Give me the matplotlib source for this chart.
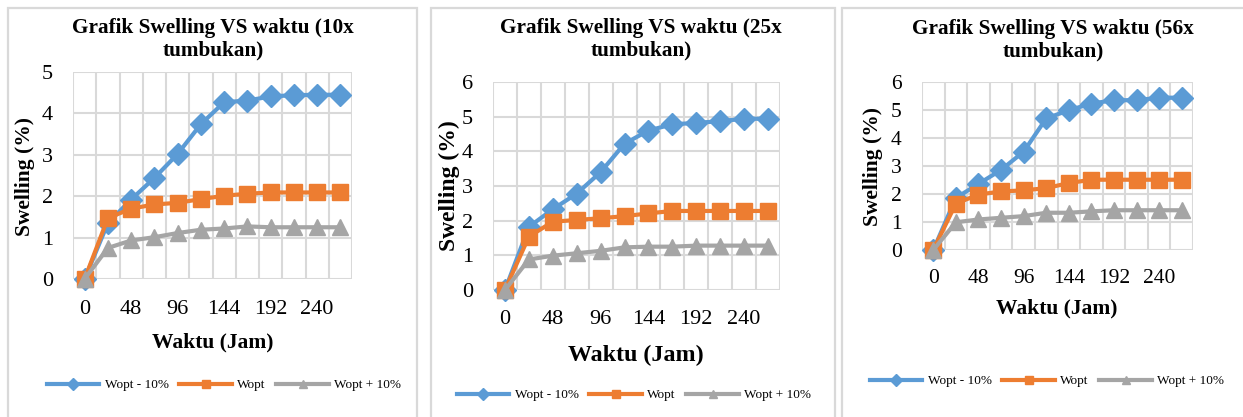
import matplotlib
matplotlib.use("Agg")
import matplotlib.pyplot as plt
from matplotlib.lines import Line2D
from matplotlib.patches import Rectangle

plt.rcParams['font.family'] = ['Liberation Serif', 'DejaVu Serif']

# ---------------- data ----------------
times = [0, 24, 48, 72, 96, 120, 144, 168, 192, 216, 240, 264]
tick_labels = ["0", "48", "96", "144", "192", "240"]
series_names = ["Wopt - 10%", "Wopt", "Wopt + 10%"]
titles = ["Grafik Swelling VS waktu (10x\ntumbukan)",
          "Grafik Swelling VS waktu (25x\ntumbukan)",
          "Grafik Swelling VS waktu (56x\ntumbukan)"]

c10_minus = [0, 1.35, 1.92, 2.44, 3.02, 3.74, 4.27, 4.31, 4.41, 4.44, 4.45, 4.45]
c10_opt   = [0, 1.47, 1.70, 1.80, 1.84, 1.93, 2.01, 2.06, 2.09, 2.09, 2.09, 2.09]
c10_plus  = [0, 0.75, 0.93, 1.01, 1.11, 1.19, 1.22, 1.27, 1.25, 1.25, 1.25, 1.25]

c25_minus = [0, 1.82, 2.33, 2.78, 3.40, 4.22, 4.60, 4.78, 4.82, 4.87, 4.94, 4.94]
c25_opt   = [0, 1.54, 1.97, 2.02, 2.07, 2.13, 2.21, 2.28, 2.28, 2.28, 2.28, 2.28]
c25_plus  = [0, 0.88, 0.99, 1.06, 1.13, 1.23, 1.25, 1.25, 1.28, 1.28, 1.28, 1.28]

c56_minus = [0, 1.86, 2.36, 2.86, 3.51, 4.70, 4.99, 5.23, 5.35, 5.35, 5.44, 5.44]
c56_opt   = [0, 1.66, 1.98, 2.09, 2.13, 2.21, 2.39, 2.51, 2.51, 2.51, 2.51, 2.51]
c56_plus  = [0, 0.99, 1.09, 1.15, 1.21, 1.33, 1.33, 1.38, 1.42, 1.42, 1.42, 1.42]

y_max = [5, 6, 6]

# ---------------- style ----------------
colors = ["#5B9BD5", "#ED7D31", "#A5A5A5"]
markers = ["D", "s", "^"]
msizes = [11, 11.5, 12]
grid_c = "#D9D9D9"

W, H = 1243, 417
fig = plt.figure(figsize=(W / 100, H / 100), dpi=100)

def fx(px):
    return px / W

def fy(py):
    return 1 - py / H

# panel frames (left, top, right, bottom) in px
panels = [(8, 8, 417, 430), (431, 8, 835, 430), (842, 8, 1260, 430)]
for (l, t, r, b) in panels:
    fig.patches.append(Rectangle((fx(l), fy(b)), fx(r - l), fy(t) - fy(b),
                                 transform=fig.transFigure, fill=False,
                                 edgecolor=grid_c, linewidth=1.6, zorder=0))

# plot areas (left, top, right, bottom) px
areas = [(73, 72, 352, 279), (493, 82, 780, 290), (922, 82, 1193, 250)]
data = [(c10_minus, c10_opt, c10_plus),
        (c25_minus, c25_opt, c25_plus),
        (c56_minus, c56_opt, c56_plus)]

title_pos = [(213, 39), (641, 39), (1053, 40)]
title_fs = [15.3, 15.3, 15.3]
tick_fs = [16, 16, 15.5]
xpad = [15, 14.5, 13.5]
xlab_fs = [15.5, 17.3, 15.5]
ylab_fs = [15.5, 17, 15.5]
xlab_pos = [(213, 342), (636, 355), (1057, 308)]
ylab_pos = [(25, 177), (449, 186), (873, 167)]
leg_pos = [(224, 385), (634, 395), (1047, 381)]

for i in range(3):
    l, t, r, b = areas[i]
    ax = fig.add_axes([fx(l), fy(b), fx(r - l), fy(t) - fy(b)])
    xs = list(range(len(times)))
    for k, ys in enumerate(data[i]):
        ax.plot(xs, ys, color=colors[k], linewidth=3, marker=markers[k],
                markersize=msizes[k], markerfacecolor=colors[k],
                markeredgecolor=colors[k], markeredgewidth=1,
                zorder=3 + k, clip_on=False, solid_capstyle='round')
    ax.set_xlim(-0.5, len(times) - 0.5)
    ax.set_ylim(0, y_max[i])
    ax.set_yticks(range(0, y_max[i] + 1))
    ax.set_xticks(xs[::2])
    ax.set_xticklabels(tick_labels)
    ax.grid(False)
    for xv in [x - 0.5 for x in range(len(times) + 1)]:
        ax.axvline(xv, color=grid_c, linewidth=1.5, zorder=1)
    for yv in range(0, y_max[i] + 1):
        ax.axhline(yv, color=grid_c, linewidth=1.5, zorder=1)
    for s in ax.spines.values():
        s.set_visible(False)
    ax.tick_params(axis='both', which='both', length=0, labelsize=tick_fs[i])
    ax.tick_params(axis='y', pad=14.5)
    ax.tick_params(axis='x', pad=xpad[i])

    fig.text(fx(title_pos[i][0]), fy(title_pos[i][1]), titles[i],
             ha='center', va='center', fontsize=title_fs[i],
             fontweight='bold', linespacing=1.15)
    fig.text(fx(xlab_pos[i][0]), fy(xlab_pos[i][1]), "Waktu (Jam)",
             ha='center', va='center', fontsize=xlab_fs[i], fontweight='bold')
    fig.text(fx(ylab_pos[i][0]), fy(ylab_pos[i][1]), "Swelling (%)",
             ha='center', va='center', fontsize=ylab_fs[i],
             fontweight='bold', rotation=90)

    handles = [Line2D([0], [0], color=colors[k], linewidth=3, marker=markers[k],
                      markersize=6, markeredgecolor=colors[k])
               for k in range(3)]
    fig.legend(handles, series_names, loc='center',
               bbox_to_anchor=(fx(leg_pos[i][0]), fy(leg_pos[i][1])),
               ncol=3, frameon=False, fontsize=9.5, handlelength=4,
               handletextpad=0.4, columnspacing=0.8, borderpad=0)

fig.savefig("out.png", dpi=100)
